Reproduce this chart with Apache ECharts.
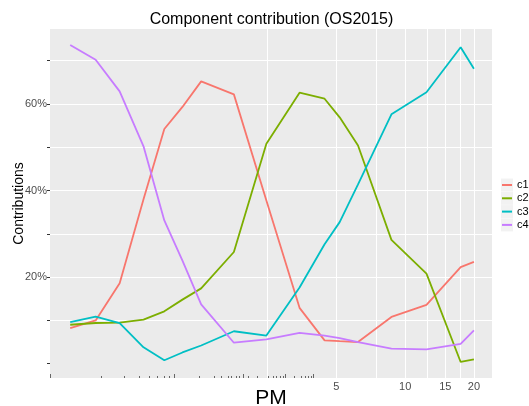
<!DOCTYPE html>
<html>
<head>
<meta charset="utf-8">
<script src="https://cdn.jsdelivr.net/npm/echarts@6/dist/echarts.min.js"></script>
<style>html,body{margin:0;padding:0;background:#fff;}#chart{width:529px;height:406px;}</style>
</head>
<body>
<div id="chart"></div>
<script>
// PM size (x, log scale)
const pm = [0.342, 0.442, 0.563, 0.716, 0.883, 1.06, 1.28, 1.78, 2.47, 3.45, 4.44, 5.17, 6.22, 8.71, 12.4, 17.5, 20];
// contributions (%)
const c1 = [8.2, 10.0, 18.6, 38.0, 54.2, 59.3, 65.2, 62.2, 37.7, 12.9, 5.4, 5.2, 5.0, 10.8, 13.6, 22.3, 23.5];
const c2 = [9.0, 9.4, 9.5, 10.2, 12.1, 14.8, 17.4, 25.8, 50.8, 62.6, 61.2, 56.9, 50.4, 28.6, 20.8, 0.4, 1.0];
const c3 = [9.6, 10.9, 9.4, 3.8, 0.8, 2.6, 4.2, 7.5, 6.5, 17.6, 27.6, 32.7, 41.4, 57.6, 62.7, 73.1, 68.1];
const c4 = [73.6, 70.2, 62.9, 50.2, 33.1, 23.8, 13.7, 4.85, 5.6, 7.1, 6.5, 5.9, 5.0, 3.5, 3.3, 4.6, 7.7];
const seriesNames = ['c1', 'c2', 'c3', 'c4'];
const seriesValues = [c1, c2, c3, c4];
const colors = ['#F8766D', '#7CAE00', '#00BFC4', '#C77CFF'];

// axis ticks
const xLabelValues = [5, 10, 15, 20];
const xGridValues = [2.5, 5, 7.5, 10, 12.5, 15, 17.5, 20];
const logTickSmall = [0.466, 0.589, 0.686, 0.759, 0.826, 0.883, 0.929, 1.256, 1.462, 1.566, 1.675, 1.73, 1.82, 1.88, 2.05, 2.26, 2.51, 2.64, 2.74, 2.84, 2.94, 3.28, 3.51, 3.66, 3.78, 3.88];
const logTickLarge = [0.28, 0.977, 1.95, 3.0, 3.97];
const yLabelValues = [20, 40, 60];
const yTickValues = [0, 10, 20, 30, 40, 50, 60, 70];
const yGridValues = [10, 20, 30, 40, 50, 60, 70];

const FONT = "'Liberation Sans', Arial, sans-serif";
const X_MIN = 0.279, X_MAX = 24.0, Y_MIN = -3.3, Y_MAX = 77.3;

const chart = echarts.init(document.getElementById('chart'), null, {renderer: 'canvas'});

const logTickAxis = (vals, len) => ({
  type: 'log', logBase: 10, min: X_MIN, max: X_MAX, position: 'bottom', gridIndex: 0,
  axisLine: {show: false, onZero: false},
  axisLabel: {show: false},
  splitLine: {show: false},
  axisTick: {show: true, inside: true, length: len, customValues: vals, lineStyle: {color: '#666', width: 1}}
});

const option = {
  animation: false,
  backgroundColor: '#ffffff',
  title: {
    text: 'Component contribution (OS2015)',
    left: 271.5, top: 12, textAlign: 'center', padding: 0,
    textStyle: {fontFamily: FONT, fontSize: 16, fontWeight: 'normal', color: '#000'}
  },
  grid: {left: 50, top: 29, right: 37, bottom: 28, containLabel: false, outerBoundsMode: 'none',
         show: true, backgroundColor: '#EBEBEB', borderWidth: 0},
  legend: [
    {
      data: seriesNames, orient: 'vertical', left: 501, top: 178.5, padding: 0,
      itemWidth: 12, itemHeight: 13, itemGap: 0.3, icon: 'rect', selectedMode: false,
      itemStyle: {color: '#F2F2F2', borderWidth: 0},
      textStyle: {fontFamily: FONT, fontSize: 11, lineHeight: 13, color: 'rgba(0,0,0,0)'}
    },
    {
      data: seriesNames, orient: 'vertical', left: 502, top: 178.5, padding: 0,
      itemWidth: 10, itemHeight: 2, itemGap: 0.3, icon: 'rect', selectedMode: false,
      itemTextGap: 3,
      textStyle: {fontFamily: FONT, fontSize: 11, lineHeight: 13, color: '#000'}
    }
  ],
  xAxis: [
    {
      type: 'log', logBase: 10, min: X_MIN, max: X_MAX, position: 'bottom',
      name: 'PM', nameLocation: 'middle', nameGap: 10, nameMoveOverlap: false,
      nameTextStyle: {fontFamily: FONT, fontSize: 21, color: '#000', verticalAlign: 'top'},
      axisLine: {show: false, onZero: false},
      axisTick: {show: false, customValues: xGridValues},
      axisLabel: {show: true, customValues: xLabelValues, margin: 3, fontFamily: FONT, fontSize: 11, color: '#4D4D4D'},
      splitLine: {show: true, lineStyle: {color: '#FFFFFF', width: 1}},
      minorSplitLine: {show: false}
    },
    logTickAxis(logTickSmall, 2),
    logTickAxis(logTickLarge, 4)
  ],
  yAxis: [
    {
      type: 'value', min: Y_MIN, max: Y_MAX, position: 'left',
      name: 'Contributions', nameLocation: 'middle', nameGap: 24, nameRotate: 90, nameMoveOverlap: false,
      nameTextStyle: {fontFamily: FONT, fontSize: 14, color: '#000'},
      axisLine: {show: false, onZero: false},
      axisTick: {show: true, length: 3, customValues: yTickValues, lineStyle: {color: '#333', width: 1}},
      axisLabel: {show: true, customValues: yLabelValues, margin: 3, fontFamily: FONT, fontSize: 11, color: '#4D4D4D',
                  formatter: v => v + '%'},
      splitLine: {show: false}
    },
    {
      type: 'value', min: Y_MIN, max: Y_MAX, position: 'left',
      axisLine: {show: false, onZero: false},
      axisTick: {show: false, customValues: yGridValues},
      axisLabel: {show: false},
      splitLine: {show: true, lineStyle: {color: '#FFFFFF', width: 1}}
    }
  ],
  series: seriesNames.map((name, i) => ({
    name: name,
    type: 'line',
    xAxisIndex: 0, yAxisIndex: 0,
    data: pm.map((x, j) => [x, seriesValues[i][j]]),
    showSymbol: false,
    symbol: 'none',
    lineStyle: {color: colors[i], width: 1.8},
    itemStyle: {color: colors[i]},
    emphasis: {disabled: true},
    z: 3
  }))
};
chart.setOption(option);
</script>
</body>
</html>
